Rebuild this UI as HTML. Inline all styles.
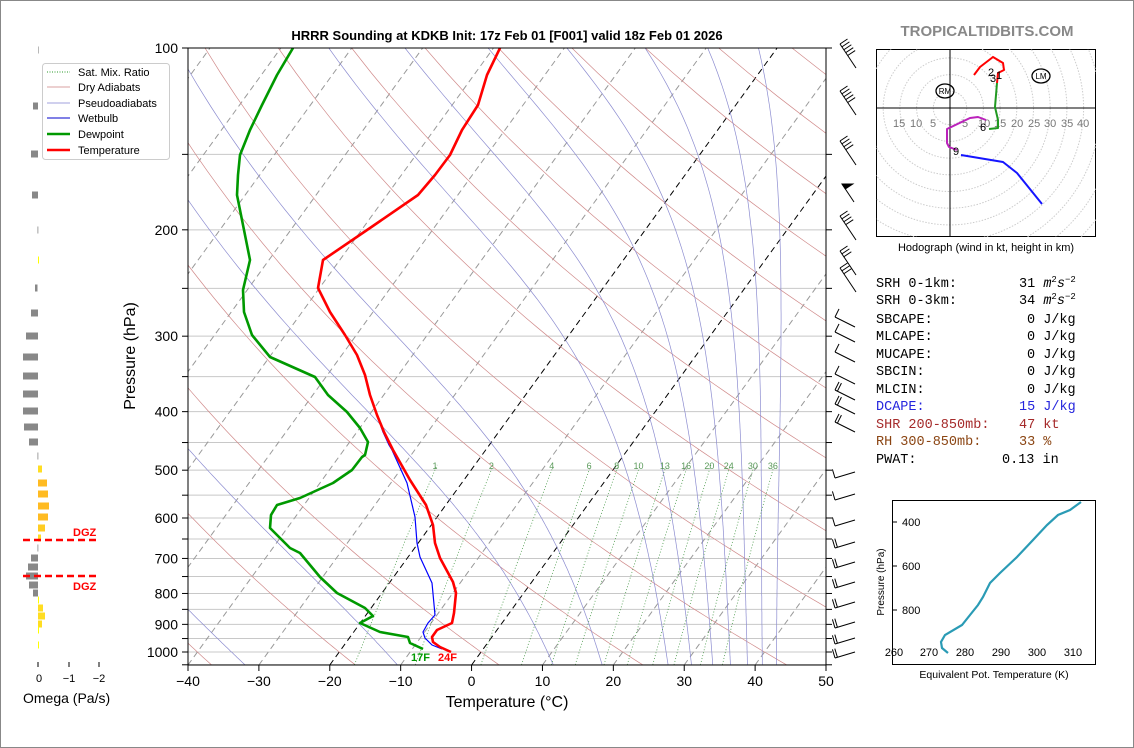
<!DOCTYPE html>
<html><head><meta charset="utf-8"><style>
html,body{margin:0;padding:0;background:#fff}
svg{display:block;font-family:"Liberation Sans","DejaVu Sans",sans-serif}
.mono{font-family:"Liberation Mono","DejaVu Sans Mono",monospace;font-size:13.5px}
</style></head><body>
<svg id="s" width="1134" height="748" viewBox="0 0 1134 748" xmlns="http://www.w3.org/2000/svg">
<rect x="0.5" y="0.5" width="1133" height="747" fill="#fff" stroke="#888"/>
<defs><clipPath id="cp"><rect x="188" y="48" width="638" height="617"/></clipPath>
<clipPath id="hc"><rect x="876" y="49" width="220" height="188"/></clipPath></defs>
<g id="bg" clip-path="url(#cp)"></g>
<g clip-path="url(#cp)" fill="none" stroke-linejoin="round">
<polyline stroke="#0000ff" stroke-width="1.2" points="500,48 487,75 478,105 462,130 450,155 435,175 418,195 370,228 323,260 318,288 330,312 345,335 357,355 365,375 370,395 377,415 383,432 389,445 392,450 407,483 415,517 417,543 420,557 432,583 435,615 428,623 423,632 425,638 432,645 442,649"/>
<polyline stroke="#ff0000" stroke-width="2.6" points="500,48 487,75 478,105 462,130 450,155 435,175 418,195 370,228 323,260 318,288 330,312 345,335 357,355 365,375 370,395 377,415 384,432 393,450 410,480 426,505 433,525 435,543 440,558 453,582 456,593 454,613 452,623 437,630 432,637 433,642 440,647 451,652"/>
<polyline stroke="#009900" stroke-width="2.6" points="293,48 277,75 262,105 250,130 240,155 238,175 237,195 244,230 250,260 243,290 244,312 252,335 270,357 315,377 328,395 347,412 360,428 368,442 365,455 362,457 352,470 333,483 300,498 277,505 271,515 270,528 290,548 300,553 320,577 337,593 365,608 373,616 360,623 380,632 408,637 410,643 423,649"/>
</g>
<text x="411" y="661" fill="#009900" font-size="11" font-weight="bold">17F</text>
<text x="438" y="661" fill="#ff0000" font-size="11" font-weight="bold">24F</text>
<rect x="188" y="48" width="638" height="617" fill="none" stroke="#000" stroke-width="1"/>
<g id="ax" font-size="14"></g>
<text x="507" y="40" text-anchor="middle" font-size="13" font-weight="bold">HRRR Sounding at KDKB Init: 17z Feb 01 [F001] valid 18z Feb 01 2026</text>
<text x="987" y="36" text-anchor="middle" font-size="15" font-weight="bold" fill="#888">TROPICALTIDBITS.COM</text>
<text x="507" y="707" text-anchor="middle" font-size="16">Temperature (°C)</text>
<text transform="translate(135,356) rotate(-90)" text-anchor="middle" font-size="16">Pressure (hPa)</text>
<g id="om"></g>
<line x1="23" y1="540" x2="99" y2="540" stroke="#f00" stroke-width="2.5" stroke-dasharray="7,4"/>
<line x1="23" y1="576" x2="99" y2="576" stroke="#f00" stroke-width="2.5" stroke-dasharray="7,4"/>
<text x="73" y="536" fill="#f00" font-size="11" font-weight="bold">DGZ</text>
<text x="73" y="590" fill="#f00" font-size="11" font-weight="bold">DGZ</text>
<g stroke="#000"><line x1="38" y1="662" x2="38" y2="667"/><line x1="69" y1="662" x2="69" y2="667"/><line x1="99" y1="662" x2="99" y2="667"/></g>
<g font-size="11" text-anchor="middle"><text x="39" y="682">0</text><text x="69" y="682">−1</text><text x="99" y="682">−2</text></g>
<text x="23" y="703" font-size="14">Omega (Pa/s)</text>
<rect x="42.5" y="63.5" width="127" height="96" rx="3" fill="#fff" fill-opacity="0.85" stroke="#ccc"/>
<g font-size="11">
<line x1="47" y1="72" x2="70" y2="72" stroke="#2a9a2a" stroke-dasharray="1,1.5"/><text x="78" y="76">Sat. Mix. Ratio</text>
<line x1="47" y1="87" x2="70" y2="87" stroke="#d9a0a0"/><text x="78" y="91">Dry Adiabats</text>
<line x1="47" y1="103" x2="70" y2="103" stroke="#a0a0dd"/><text x="78" y="107">Pseudoadiabats</text>
<line x1="47" y1="118" x2="70" y2="118" stroke="#0000cc"/><text x="78" y="122">Wetbulb</text>
<line x1="47" y1="134" x2="70" y2="134" stroke="#009900" stroke-width="2.5"/><text x="78" y="138">Dewpoint</text>
<line x1="47" y1="150" x2="70" y2="150" stroke="#f00" stroke-width="2.5"/><text x="78" y="154">Temperature</text>
</g>
<g id="wb" stroke="#000" stroke-width="1" fill="none"></g>
<rect x="876.5" y="49.5" width="219" height="187" fill="#fff" stroke="#000"/>
<g id="hr" clip-path="url(#hc)" fill="none" stroke="#ccc" stroke-dasharray="1.5,1.5"></g>
<g clip-path="url(#hc)"><line x1="950" y1="49" x2="950" y2="237" stroke="#000"/><line x1="876" y1="108" x2="1096" y2="108" stroke="#000"/></g>
<g font-size="11" fill="#777"><text x="893" y="127">15</text><text x="910" y="127">10</text><text x="930" y="127">5</text><text x="962" y="127">5</text><text x="978" y="127">10</text><text x="994" y="127">15</text><text x="1011" y="127">20</text><text x="1028" y="127">25</text><text x="1044" y="127">30</text><text x="1061" y="127">35</text><text x="1077" y="127">40</text></g>
<g fill="none" stroke-width="2" stroke-linejoin="round">
<polyline stroke="#f00" points="974,75 980,67 993,57 1003,63 1004,70 998,73 997,83"/>
<polyline stroke="#229922" points="997,83 995,107 998,120 998,128 989,129"/>
<polyline stroke="#bb22bb" points="986,120 978,117 970,118 947,129 947,143 949,147 957,150"/>
<polyline stroke="#1515ff" points="961,155 1003,162 1017,173 1042,204"/>
</g>
<g font-size="11"><text x="988" y="76">2</text><text x="996" y="79">1</text><text x="990" y="82">3</text><text x="980" y="131">6</text><text x="953" y="155">9</text></g>
<ellipse cx="945" cy="91" rx="9" ry="7" fill="none" stroke="#000" stroke-width="1.3"/><text x="945" y="94" font-size="8" text-anchor="middle">RM</text>
<ellipse cx="1041" cy="76" rx="9" ry="7" fill="none" stroke="#000" stroke-width="1.3"/><text x="1041" y="79" font-size="8" text-anchor="middle">LM</text>
<text x="986" y="251" text-anchor="middle" font-size="11">Hodograph (wind in kt, height in km)</text>
<g class="mono">
<text x="876" y="287">SRH 0-1km:</text><text x="1019" y="287">31 <tspan font-style="italic">m</tspan><tspan font-size="9" dy="-5">2</tspan><tspan font-style="italic" dy="5">s</tspan><tspan font-size="9" dy="-5">−2</tspan></text>
<text x="876" y="304">SRH 0-3km:</text><text x="1019" y="304">34 <tspan font-style="italic">m</tspan><tspan font-size="9" dy="-5">2</tspan><tspan font-style="italic" dy="5">s</tspan><tspan font-size="9" dy="-5">−2</tspan></text>
<text x="876" y="323">SBCAPE:</text><text x="1027" y="323">0 J/kg</text>
<text x="876" y="340">MLCAPE:</text><text x="1027" y="340">0 J/kg</text>
<text x="876" y="358">MUCAPE:</text><text x="1027" y="358">0 J/kg</text>
<text x="876" y="375">SBCIN:</text><text x="1027" y="375">0 J/kg</text>
<text x="876" y="393">MLCIN:</text><text x="1027" y="393">0 J/kg</text>
<g fill="#2525dd"><text x="876" y="410">DCAPE:</text><text x="1019" y="410">15 J/kg</text></g>
<g fill="#a52a2a"><text x="876" y="428">SHR 200-850mb:</text><text x="1019" y="428">47 kt</text></g>
<g fill="#8b4513"><text x="876" y="445">RH 300-850mb:</text><text x="1019" y="445">33 %</text></g>
<text x="876" y="463">PWAT:</text><text x="1002" y="463">0.13 in</text>
</g>
<rect x="892.5" y="500.5" width="203" height="164" fill="none" stroke="#000"/>
<polyline fill="none" stroke="#2a9bb5" stroke-width="2.2" points="1081,502 1070,510 1058,515 1047,525 1033,540 1017,557 1000,573 990,583 983,597 978,605 970,615 962,625 945,635 941,642 942,648 948,653"/>
<g font-size="11"><text x="902" y="526">400</text><text x="902" y="570">600</text><text x="902" y="614">800</text></g>
<g stroke="#000"><line x1="892" y1="522" x2="897" y2="522"/><line x1="892" y1="566" x2="897" y2="566"/><line x1="892" y1="610" x2="897" y2="610"/></g>
<g font-size="11" text-anchor="middle"><text x="894" y="656">260</text><text x="929" y="656">270</text><text x="965" y="656">280</text><text x="1001" y="656">290</text><text x="1037" y="656">300</text><text x="1073" y="656">310</text></g>
<text transform="translate(884,582) rotate(-90)" text-anchor="middle" font-size="10">Pressure (hPa)</text>
<text x="994" y="678" text-anchor="middle" font-size="10.5">Equivalent Pot. Temperature (K)</text>
</svg>
<script>
var NS="http://www.w3.org/2000/svg",bg=document.getElementById('bg');
function Y(p){return 48+(Math.log10(p)-2)*604}
function X(T,y){return 188+(T+40)*7.089+(665-y)*0.725}
function el(par,tag,a){var e=document.createElementNS(NS,tag);for(var k in a)e.setAttribute(k,a[k]);par.appendChild(e);return e}
function pl(pts,a){a.points=pts.map(function(q){return q[0].toFixed(1)+','+q[1].toFixed(1)}).join(' ');a.fill='none';el(bg,'polyline',a)}
for(var p=100;p<=1050;p+=50){var y=Y(p);el(bg,'line',{x1:188,x2:826,y1:y,y2:y,stroke:'#c8c8c8','stroke-width':1})}
for(var T=-140;T<=50;T+=10){var a=[[X(T,665),665],[X(T,48),48]];pl(a,{stroke:(T==0||T==-20)?'#000':'#999','stroke-width':1,'stroke-dasharray':'6,4'})}
for(var th=153.15;th<=573.15;th+=20){var a=[];for(var p=1050;p>=100;p-=10){var T=th*Math.pow(p/1000,0.286)-273.15;var y=Y(p);a.push([X(T,y),y])}pl(a,{stroke:'#d08a8a','stroke-width':0.7})}
function es(T){return 6.112*Math.exp(17.67*T/(T+243.5))}
[-32,-10.5,11.5,18.4,27.7,31,34,36.5,38.9,41,43].forEach(function(t0){var T=t0+273.15,p=1050,a=[];while(p>=100){var y=Y(p);a.push([X(T-273.15,y),y]);var e=es(T-273.15),rs=0.622*e/(p-e);var Rd=287,cp=1005,Lv=2.5e6;var dTdp=(Rd*T+Lv*rs)/(cp+Lv*Lv*rs*0.622/(Rd*T*T))/p;T-=dTdp*5;p-=5;}pl(a,{stroke:'#8c8cd0','stroke-width':0.7})});
[1,2,4,6,8,10,13,16,20,24,30,36].forEach(function(w){var a=[];for(var p=1050;p>=490;p-=10){var e=w*p/(622+w),l=Math.log(e/6.112),T=243.5*l/(17.67-l),y=Y(p);a.push([X(T,y),y])}pl(a,{stroke:'#4a9a4a','stroke-width':0.8,'stroke-dasharray':'1,2'});var p=500,e=w*p/(622+w),l=Math.log(e/6.112),T=243.5*l/(17.67-l);var t=el(bg,'text',{x:X(T,470),y:469,'font-size':9,fill:'#5a9a5a','text-anchor':'middle'});t.textContent=w});
var ax=document.getElementById('ax');
for(var p=100;p<=1050;p+=50){var y=Y(p);el(ax,'line',{x1:182,x2:188,y1:y,y2:y,stroke:'#000'});el(ax,'line',{x1:826,x2:832,y1:y,y2:y,stroke:'#000'});if(p%100==0){var t=el(ax,'text',{x:178,y:y+5,'text-anchor':'end'});t.textContent=p}}
for(var T=-40;T<=50;T+=10){var x=188+(T+40)*7.089;el(ax,'line',{x1:x,x2:x,y1:665,y2:671,stroke:'#000'});var t=el(ax,'text',{x:x,y:686,'text-anchor':'middle'});t.textContent=(T<0?'\u2212'+(-T):T)}
var om=document.getElementById('om');
[[50,38,38.6,'#888'],[106,33,38,'#888'],[154,31,38,'#888'],[195,32,38,'#888'],[230,37.5,38.3,'#888'],[260,38,39,'#ff0'],[288,35,37.5,'#888'],[313,31,38,'#888'],[336,26,38,'#888'],[357,23,38,'#888'],[376,23,38,'#888'],[394,23,38,'#888'],[411,23,38,'#888'],[427,24,38,'#888'],[442,29,38,'#888'],[456,37.5,38.3,'#888'],[469,38,42,'#fd2'],[483,38,47,'#fb2'],[494,38,48,'#fb2'],[506,38,49,'#fb2'],[517,38,48,'#fb2'],[528,38,45,'#fc2'],[538,38,41,'#fd2'],[548,37.5,38.3,'#888'],[558,31,38,'#888'],[567,28,38,'#888'],[576,26,38,'#888'],[585,29,38,'#888'],[593,33,38,'#888'],[600,38,39,'#ff0'],[608,38,43,'#fd2'],[616,38,45,'#fd2'],[624,38,42,'#fd2'],[630,38,39,'#ff0'],[645,38,39,'#ff0']].forEach(function(b){el(om,'rect',{x:b[1],y:b[0]-3.5,width:b[2]-b[1],height:7,fill:b[3]})});
var hr=document.getElementById('hr');for(var k=1;k<=14;k++)el(hr,'circle',{cx:950,cy:108,r:k*16.7});
var wb=document.getElementById('wb');
function barb(x,y,dx,dy,n,flag){el(wb,'line',{x1:x,y1:y,x2:x+dx,y2:y+dy});var L=Math.hypot(dx,dy),ux=dx/L,uy=dy/L,px=-uy*9,py=ux*9;
 if(flag){el(wb,'polygon',{points:(x+dx)+','+(y+dy)+' '+(x+dx-ux*6+px)+','+(y+dy-uy*6+py)+' '+(x+dx-ux*6)+','+(y+dy-uy*6),fill:'#000'})}
 for(var i=0;i<n;i++){var s=1-i*0.12,bx=x+dx*s,by=y+dy*s;el(wb,'line',{x1:bx,y1:by,x2:bx+px,y2:by+py})}}
[[48,5],[95,5],[145,4],[220,4],[255,3],[272,3]].forEach(function(b){barb(856,b[0]+20,-16,-24,b[1],false)});
barb(854,202,-12,-18,0,true);
[[325,1],[340,1],[360,1],[382,1],[398,2],[412,2],[430,2],[470,1],[492,1],[518,1],[540,2],[560,2],[580,2],[600,2],[620,2],[636,2],[650,2]].forEach(function(b){barb(855,b[0]+2,-20,b[0]>450?6:-10,b[1],false)});
</script>
</body></html>
